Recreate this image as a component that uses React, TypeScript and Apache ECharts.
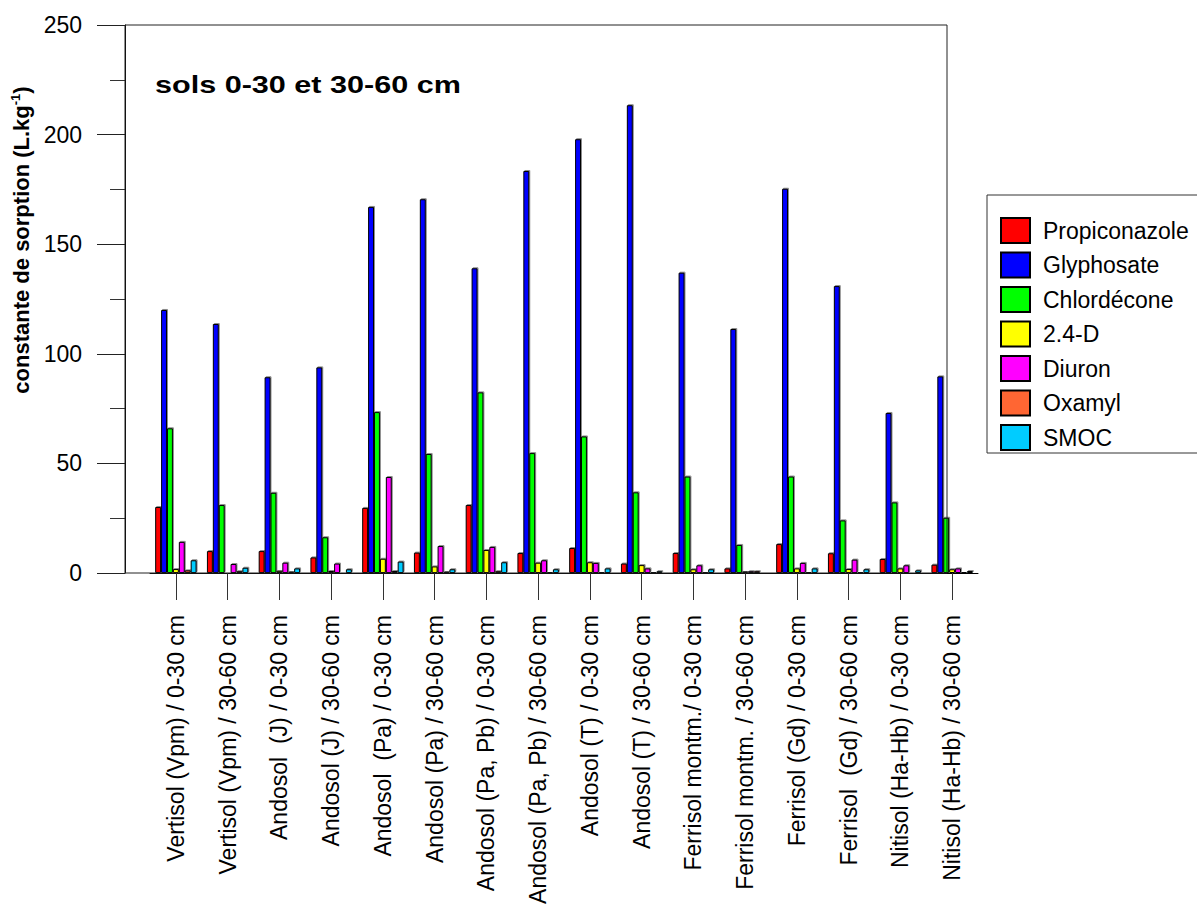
import React, { useEffect, useRef } from "react";
import * as echarts from "echarts";

// Soil horizons (categories on the x axis)
const categories = [
  "Vertisol (Vpm) / 0-30 cm",
  "Vertisol (Vpm) / 30-60 cm",
  "Andosol  (J) / 0-30 cm",
  "Andosol (J) / 30-60 cm",
  "Andosol  (Pa) / 0-30 cm",
  "Andosol (Pa) / 30-60 cm",
  "Andosol (Pa, Pb) / 0-30 cm",
  "Andosol (Pa, Pb) / 30-60 cm",
  "Andosol (T) / 0-30 cm",
  "Andosol (T) / 30-60 cm",
  "Ferrisol montm./ 0-30 cm",
  "Ferrisol montm. / 30-60 cm",
  "Ferrisol (Gd) / 0-30 cm",
  "Ferrisol  (Gd) / 30-60 cm",
  "Nitisol (Ha-Hb) / 0-30 cm",
  "Nitisol (Ha-Hb) / 30-60 cm",
];

// Sorption constants (L.kg-1) per molecule
const propiconazole = [30.1, 10, 10, 7.1, 29.7, 9.3, 31, 9.1, 11.4, 4.3, 9.1, 2.1, 13.2, 9.0, 6.4, 3.8];
const glyphosate = [120, 113.6, 89.3, 93.8, 167, 170.5, 139, 183.4, 197.9, 213.4, 137, 111.3, 175.3, 130.9, 73, 89.7];
const chlordecone = [66, 31, 36.6, 16.3, 73.4, 54.3, 82.4, 54.7, 62.3, 36.8, 44, 12.8, 44, 24, 32.2, 25.2];
const d24 = [1.8, 0.3, 1.0, 0.9, 6.5, 3.0, 10.5, 4.7, 4.9, 3.6, 1.7, 0.7, 2.1, 1.8, 2.1, 1.7];
const diuron = [14.2, 4.1, 4.7, 4.3, 43.8, 12.3, 11.9, 5.8, 4.6, 2.1, 3.5, 0.8, 4.6, 6.1, 3.5, 2.1];
const oxamyl = [1.2, 0.8, 0.6, 0.4, 0.9, 0.6, 0.8, 0.5, 0.5, 0.5, 0.5, 0.8, 0.5, 0.5, 0.4, 0.5];
const smoc = [5.8, 2.4, 2.1, 1.7, 5.2, 1.7, 4.9, 1.7, 2.1, 0.8, 1.7, 0.4, 2.1, 1.7, 1.2, 0.9];

const seriesNames = ["Propiconazole", "Glyphosate", "Chlordécone", "2.4-D", "Diuron", "Oxamyl", "SMOC"];
const seriesValues = [propiconazole, glyphosate, chlordecone, d24, diuron, oxamyl, smoc];
const seriesColors = ["#FF0000", "#0000FF", "#00FF00", "#FFFF00", "#FF00FF", "#FF6633", "#00CCFF"];

const yTicks = { min: 0, max: 250, interval: 50 };

const FONT = "'Liberation Sans', Arial, Helvetica, sans-serif";

export default function App() {
  const ref = useRef<HTMLDivElement>(null);

  useEffect(() => {
    if (!ref.current) return;
    const chart = echarts.init(ref.current, undefined, { renderer: "svg" });

    const series = seriesNames.map((name, i) => ({
      name,
      type: "bar",
      data: seriesValues[i],
      barGap: "0%",
      barCategoryGap: "20%",
      itemStyle: {
        color: seriesColors[i],
        borderColor: "#000",
        borderWidth: 1,
        shadowColor: "rgba(0,0,0,0.45)",
        shadowOffsetX: 1,
        shadowOffsetY: -1,
        shadowBlur: 0,
      },
      emphasis: { disabled: true },
    }));

    chart.setOption({
      animation: false,
      backgroundColor: "#fff",
      textStyle: { fontFamily: FONT },
      grid: {
        left: 150,
        right: 219,
        top: 25,
        bottom: 335,
        containLabel: false,
        outerBoundsMode: "none",
      },
      xAxis: {
        type: "category",
        data: categories,
        axisLine: { show: true, lineStyle: { color: "#000", width: 1 } },
        axisTick: { show: true, alignWithLabel: true, length: 27, lineStyle: { color: "#333" } },
        axisLabel: {
          interval: 0,
          rotate: 90,
          margin: 42,
          fontSize: 23,
          color: "#000",
          fontFamily: FONT,
        },
        splitLine: { show: false },
      },
      yAxis: {
        type: "value",
        min: yTicks.min,
        max: yTicks.max,
        interval: yTicks.interval,
        offset: 25,
        axisLine: { show: true, lineStyle: { color: "#000", width: 1 } },
        axisTick: { show: true, length: 28, lineStyle: { color: "#222" } },
        minorTick: { show: true, splitNumber: 2, length: 15, lineStyle: { color: "#333" } },
        axisLabel: { margin: 43, fontSize: 23, color: "#000", fontFamily: FONT },
        splitLine: { show: false },
        name: "{b|constante de sorption (L.kg}{s|-1}{b|)}",
        nameLocation: "middle",
        nameGap: 89,
        nameTextStyle: {
          padding: [0, 0, 0, 118],
          rich: {
            b: { fontSize: 22, fontWeight: "bold", color: "#000", fontFamily: FONT, lineHeight: 26 },
            s: { fontSize: 13, fontWeight: "bold", color: "#000", fontFamily: FONT, verticalAlign: "top", lineHeight: 26 },
          },
        },
      },
      legend: {
        orient: "vertical",
        left: 1000,
        top: 217,
        padding: 0,
        itemWidth: 29,
        itemHeight: 25,
        itemGap: 7.5,
        icon: "rect",
        selectedMode: false,
        data: seriesNames,
        textStyle: { fontSize: 23, color: "#000", fontFamily: FONT, lineHeight: 25, padding: [0, 0, 0, 8] },
      },
      graphic: [
        {
          type: "rect",
          z: 100,
          silent: true,
          shape: { x: 125, y: 25, width: 822, height: 548 },
          style: { fill: "none", stroke: "#222", lineWidth: 1 },
        },
        {
          type: "rect",
          z: 100,
          silent: true,
          shape: { x: 987, y: 195, width: 240, height: 258 },
          style: { fill: "none", stroke: "#333", lineWidth: 1 },
        },
        {
          type: "text",
          z: 100,
          x: 155,
          y: 85,
          scaleX: 1.33,
          style: {
            text: "sols 0-30 et 30-60 cm",
            font: `bold 23px ${FONT}`,
            fill: "#000",
            align: "left",
            verticalAlign: "middle",
          },
        },
      ],
      series,
    });

    return () => chart.dispose();
  }, []);

  return (
    <div
      ref={ref}
      style={{ position: "absolute", left: 0, top: 0, width: 1197, height: 908, background: "#fff" }}
    />
  );
}
